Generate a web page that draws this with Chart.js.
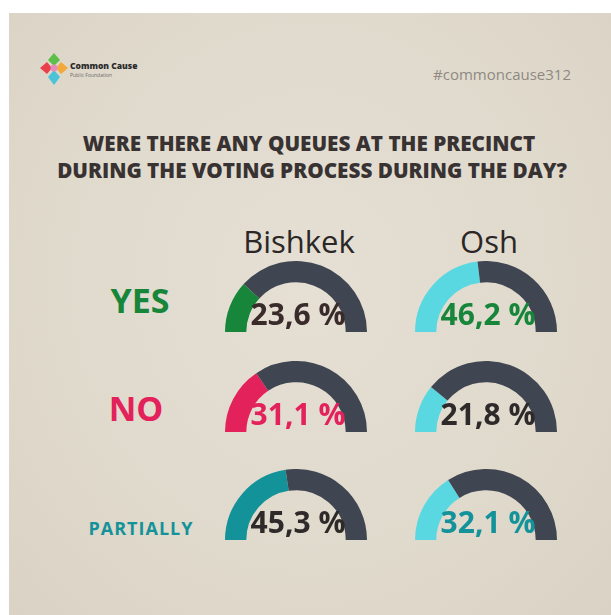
<!DOCTYPE html>
<html>
<head>
<meta charset="utf-8">
<script src="https://cdn.jsdelivr.net/npm/chart.js@4"></script>
<style>
  html, body { margin: 0; padding: 0; background: #ffffff; }
  body { width: 611px; height: 615px; position: relative; overflow: hidden; font-family: "Open Sans", sans-serif; }
  #card {
    position: absolute; left: 9px; top: 13px; right: 0; bottom: 0;
    background: radial-gradient(ellipse at 50% 45%, #e5dfd4 0%, #e0dacd 60%, #d9d2c5 100%);
  }
  .txt { position: absolute; white-space: nowrap; line-height: 1; }
  canvas.gauge { position: absolute; }
</style>
</head>
<body>
<div id="card"></div>
<div id="layer"></div>
<script>
// Survey answers per city, in percent
const cities = ['Bishkek', 'Osh'];
const answers = ['YES', 'NO', 'PARTIALLY'];
const bishkekValues = [23.6, 31.1, 45.3];
const oshValues = [46.2, 21.8, 32.1];
const titleLines = ['WERE THERE ANY QUEUES AT THE PRECINCT', 'DURING THE VOTING PROCESS DURING THE DAY?'];
const hashtag = '#commoncause312';

// Styling
const trackColor = '#3f4551';
const answerColors = ['#17853a', '#e3215a', '#14929a'];
const oshArcColor = '#5ad8e1';
const labelColors = [
  ['#3a2b2b', '#17853a'],
  ['#e3215a', '#2f2a2a'],
  ['#2f2a2a', '#14929a']
];
const colX = [296, 486];
const rowY = [332, 432, 540];
const R = 71;

const layer = document.getElementById('layer');
function addText(str, opts) {
  const d = document.createElement('div');
  d.className = 'txt';
  d.textContent = str;
  d.style.fontSize = opts.size + 'px';
  d.style.fontWeight = opts.weight || 400;
  d.style.color = opts.color;
  if (opts.spacing) d.style.letterSpacing = opts.spacing + 'px';
  // baseline sits 0.888em below the top of a line-height:1 box for Open Sans
  d.style.top = (opts.baseline - 0.888 * opts.size) + 'px';
  layer.appendChild(d);
  const w = d.getBoundingClientRect().width;
  if (opts.align === 'right') d.style.left = (opts.x - w) + 'px';
  else if (opts.align === 'left') d.style.left = opts.x + 'px';
  else d.style.left = (opts.x - w / 2) + 'px';
  return d;
}

// Header: logo mark, organisation name, hashtag
const svgNS = 'http://www.w3.org/2000/svg';
const logo = document.createElementNS(svgNS, 'svg');
logo.setAttribute('width', '34'); logo.setAttribute('height', '36');
logo.style.position = 'absolute'; logo.style.left = '37px'; logo.style.top = '51px';
logo.innerHTML =
  '<polygon points="17,2 23,9 17,15 11,9" fill="#5cbf4a"/>' +
  '<polygon points="24,11 31,17 24,23 19,17" fill="#f2a83a"/>' +
  '<polygon points="17,19 23,26 17,34 11,26" fill="#4cc3d9"/>' +
  '<polygon points="10,11 15,17 10,23 3,17" fill="#e8414b"/>' +
  '<circle cx="17" cy="17" r="3.5" fill="#e58bbf"/>';
document.body.appendChild(logo);
addText('Common Cause', { x: 70, baseline: 70, size: 8.5, weight: 800, color: '#2b2b2b', align: 'left' });
addText('Public Foundation', { x: 70, baseline: 77, size: 5, weight: 400, color: '#6a6a6a', align: 'left' });
addText(hashtag, { x: 571, baseline: 80, size: 15, weight: 400, color: '#8f8981', align: 'right' });

// Question
addText(titleLines[0], { x: 309, baseline: 151, size: 20.7, weight: 800, color: '#383232' });
addText(titleLines[1], { x: 312, baseline: 178, size: 20.7, weight: 800, color: '#383232' });

// Column headers
cities.forEach((c, i) => addText(c, { x: colX[i] + 3, baseline: 254, size: 31, weight: 400, color: '#2b2727' }));

// Row headers
addText(answers[0], { x: 140, baseline: 313, size: 34, weight: 700, color: answerColors[0] });
addText(answers[1], { x: 136, baseline: 421, size: 34, weight: 700, color: answerColors[1] });
addText(answers[2], { x: 141, baseline: 535, size: 18, weight: 700, color: answerColors[2], spacing: 1 });

function fmt(v) { return v.toFixed(1).replace('.', ',') + ' %'; }

const series = [bishkekValues, oshValues];
series.forEach((vals, ci) => {
  vals.forEach((v, ri) => {
    const cv = document.createElement('canvas');
    cv.className = 'gauge';
    cv.width = 2 * R; cv.height = R;
    cv.style.left = (colX[ci] - R) + 'px';
    cv.style.top = (rowY[ri] - R) + 'px';
    document.body.appendChild(cv);
    const arcColor = ci === 0 ? answerColors[ri] : oshArcColor;
    new Chart(cv, {
      type: 'doughnut',
      data: {
        labels: [answers[ri], ''],
        datasets: [{
          data: [v, 100 - v],
          backgroundColor: [arcColor, trackColor],
          borderWidth: 0
        }]
      },
      options: {
        responsive: false,
        animation: false,
        events: [],
        rotation: -90,
        circumference: 180,
        cutout: '70%',
        plugins: { legend: { display: false }, tooltip: { enabled: false } }
      }
    });
    const lbl = addText(fmt(v), { x: colX[ci] + 2, baseline: rowY[ri] - 6, size: 30, weight: 700, color: labelColors[ri][ci] });
    lbl.style.zIndex = 2;
  });
});
</script>
</body>
</html>
